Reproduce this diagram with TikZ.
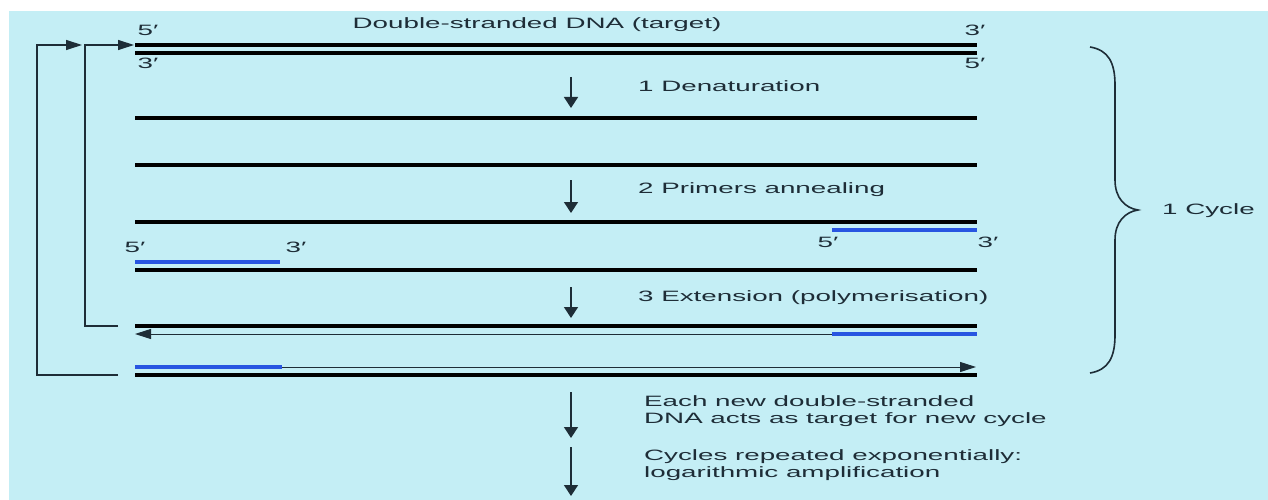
\documentclass[tikz,border=0pt]{standalone}
\usepackage{fontspec}
\setmainfont{Liberation Sans}
\newfontfamily\lab[FakeStretch=1.85]{Liberation Sans}
\usetikzlibrary{arrows.meta}
\definecolor{bg}{RGB}{196,238,245}
\definecolor{ink}{RGB}{30,45,55}
\definecolor{primer}{RGB}{40,85,225}
\begin{document}
\begin{tikzpicture}[x=1pt,y=-1pt,
  dna/.style={line width=3.4pt,black},
  prm/.style={line width=4.5pt,primer},
  thinline/.style={line width=1pt,ink},
  loopline/.style={line width=1.2pt,ink},
  harr/.style={-{Triangle[length=16pt,width=10pt]}},
  varr/.style={line width=1.4pt,ink,-{Triangle[length=11pt,width=14pt]}},
  lbl/.style={font=\lab\fontsize{15}{17.5}\selectfont,text=ink,inner sep=0pt},
  endlbl/.style={lbl,anchor=center},
  steplbl/.style={lbl,anchor=west,align=left},
]
\useasboundingbox (0,0) rectangle (1268,500);
\fill[white] (0,0) rectangle (1268,500);
\fill[bg] (9,11) rectangle (1268,500);

% strand end coordinates
\coordinate (aL) at (135,45);  \coordinate (aR) at (977,45);
\coordinate (bL) at (135,53);  \coordinate (bR) at (977,53);
\coordinate (cL) at (135,118); \coordinate (cR) at (977,118);
\coordinate (dL) at (135,165); \coordinate (dR) at (977,165);
\coordinate (eL) at (135,222); \coordinate (eR) at (977,222);
\coordinate (epL) at (832,230); \coordinate (epR) at (977,230);
\coordinate (fpL) at (135,262); \coordinate (fpR) at (280,262);
\coordinate (fL) at (135,270); \coordinate (fR) at (977,270);
\coordinate (gL) at (135,326); \coordinate (gR) at (977,326);
\coordinate (gpL) at (832,334); \coordinate (gpR) at (977,334);
\coordinate (gtL) at (135,334);
\coordinate (hpL) at (135,367); \coordinate (hpR) at (282,367);
\coordinate (htR) at (976,367);
\coordinate (hL) at (135,375); \coordinate (hR) at (977,375);

% DNA strands
\draw[dna] (aL) -- (aR);
\draw[dna] (bL) -- (bR);
\draw[dna] (cL) -- (cR);
\draw[dna] (dL) -- (dR);
\draw[dna] (eL) -- (eR);
\draw[prm] (epL) -- (epR);
\draw[prm] (fpL) -- (fpR);
\draw[dna] (fL) -- (fR);
\draw[dna] (gL) -- (gR);
\draw[thinline,harr] (gpR) -- (gtL);
\draw[prm] (gpL) -- (gpR);
\draw[thinline,harr] (hpR) -- (htR);
\draw[prm] (hpL) -- (hpR);
\draw[dna] (hL) -- (hR);

% feedback loops
\coordinate (o1) at (118,375); \coordinate (oc1) at (37,375);
\coordinate (oc2) at (37,45);  \coordinate (oe) at (82,45);
\coordinate (i1) at (118,326); \coordinate (ic1) at (85,326);
\coordinate (ic2) at (85,45);  \coordinate (ie) at (134,45);
\draw[loopline,harr] (o1) -- (oc1) -- (oc2) -- (oe);
\draw[loopline,harr] (i1) -- (ic1) -- (ic2) -- (ie);

% end labels
\node[endlbl] (l1) at (148,30) {5′};
\node[endlbl] (l2) at (148,63) {3′};
\node[endlbl] (l3) at (975,30) {3′};
\node[endlbl] (l4) at (975,63) {5′};
\node[endlbl] (l5) at (828,242) {5′};
\node[endlbl] (l6) at (988,242) {3′};
\node[endlbl] (l7) at (135,247) {5′};
\node[endlbl] (l8) at (296,247) {3′};

\node[endlbl] (title) at (537,25) {Double-stranded DNA (target)};

% step arrows
\coordinate (v1a) at (571,77);  \coordinate (v1b) at (571,108);
\coordinate (v2a) at (571,180); \coordinate (v2b) at (571,213);
\coordinate (v3a) at (571,287); \coordinate (v3b) at (571,318);
\coordinate (v4a) at (571,392); \coordinate (v4b) at (571,438);
\coordinate (v5a) at (571,447); \coordinate (v5b) at (571,496);
\draw[varr] (v1a) -- (v1b);
\draw[varr] (v2a) -- (v2b);
\draw[varr] (v3a) -- (v3b);
\draw[varr] (v4a) -- (v4b);
\draw[varr] (v5a) -- (v5b);

\node[steplbl] (s1) at (638,86) {1 Denaturation};
\node[steplbl] (s2) at (638,190) {2 Primers annealing};
\node[steplbl] (s3) at (638,298) {3 Extension (polymerisation)};
\node[steplbl] (s4) at (644,411) {Each new double-stranded\\DNA acts as target for new cycle};
\node[steplbl] (s5) at (644,465) {Cycles repeated exponentially:\\logarithmic amplification};

% brace
\draw[line width=1.6pt,ink] (1090,47) .. controls (1108,50) and (1115,62) .. (1115,85)
  -- (1115,180) .. controls (1115,198) and (1125,208) .. (1138,210)
  .. controls (1125,212) and (1115,222) .. (1115,240)
  -- (1115,335) .. controls (1115,358) and (1108,370) .. (1090,373);
\node[steplbl] (cyc) at (1162,211) {1 Cycle};
\end{tikzpicture}
\end{document}
